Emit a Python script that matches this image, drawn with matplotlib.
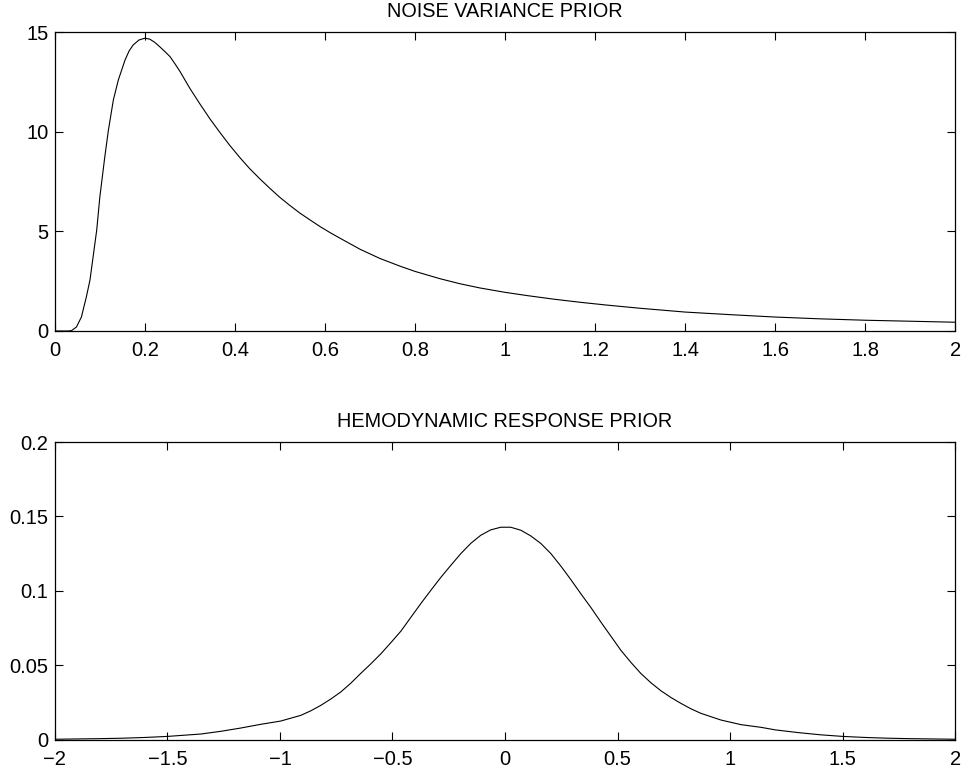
import numpy as np
import matplotlib
matplotlib.use("Agg")
import matplotlib.pyplot as plt

# noise variance prior
noise_x = [0.0, 0.03, 0.037, 0.048, 0.059, 0.070, 0.078, 0.085, 0.093, 0.100,
           0.111, 0.119, 0.130, 0.141, 0.156, 0.165, 0.174, 0.187, 0.200, 0.211,
           0.222, 0.233, 0.244, 0.256, 0.267, 0.278, 0.300, 0.322, 0.344, 0.367,
           0.389, 0.411, 0.433, 0.456, 0.478, 0.500, 0.522, 0.544, 0.567, 0.589,
           0.611, 0.633, 0.678, 0.722, 0.767, 0.800, 0.856, 0.900, 0.944, 1.000,
           1.048, 1.107, 1.167, 1.226, 1.300, 1.400, 1.500, 1.600, 1.700, 1.800,
           1.900, 2.000]
noise_y = [0.0, 0.0, 0.02, 0.2, 0.70, 1.71, 2.55, 3.72, 5.06, 6.73,
           8.74, 10.08, 11.59, 12.59, 13.60, 14.05, 14.35, 14.60, 14.69, 14.64,
           14.48, 14.26, 14.03, 13.76, 13.40, 13.02, 12.17, 11.40, 10.66, 9.95,
           9.30, 8.70, 8.14, 7.62, 7.15, 6.70, 6.30, 5.92, 5.57, 5.24,
           4.94, 4.66, 4.10, 3.64, 3.25, 2.99, 2.62, 2.37, 2.16, 1.94,
           1.78, 1.60, 1.44, 1.30, 1.14, 0.95, 0.82, 0.70, 0.61, 0.54,
           0.49, 0.44]

# hemodynamic response prior
hrf_x = [-2.0, -1.9, -1.8, -1.7, -1.6, -1.5, -1.352, -1.264, -1.175, -1.086,
         -0.997, -0.908, -0.864, -0.819, -0.775, -0.730, -0.686, -0.641, -0.597,
         -0.552, -0.508, -0.463, -0.419, -0.375, -0.330, -0.286, -0.241, -0.197,
         -0.152, -0.108, -0.064, -0.019, 0.025, 0.070, 0.114, 0.159, 0.203, 0.248,
         0.292, 0.336, 0.381, 0.425, 0.470, 0.514, 0.559, 0.603, 0.648, 0.692,
         0.736, 0.781, 0.825, 0.870, 0.959, 1.048, 1.137, 1.2, 1.3, 1.4, 1.5,
         1.6, 1.7, 1.8, 1.9, 2.0]
hrf_y = [0.0005, 0.0007, 0.0009, 0.0012, 0.0017, 0.0024, 0.0040, 0.0058, 0.0080, 0.0105,
         0.0127, 0.0165, 0.0195, 0.0232, 0.0274, 0.0322, 0.0380, 0.0447, 0.0510,
         0.0578, 0.0652, 0.0730, 0.0822, 0.0914, 0.1004, 0.1090, 0.1172, 0.1250,
         0.1320, 0.1374, 0.1410, 0.1428, 0.1428, 0.1408, 0.1370, 0.1319, 0.1252, 0.1167,
         0.1077, 0.0983, 0.0890, 0.0793, 0.0697, 0.0603, 0.0521, 0.0447, 0.0384, 0.0331,
         0.0286, 0.0246, 0.0210, 0.0179, 0.0134, 0.0103, 0.0085, 0.0068, 0.0050, 0.0035, 0.0024,
         0.0017, 0.0012, 0.0009, 0.0007, 0.0005]

noise_xticks = [0, 0.2, 0.4, 0.6, 0.8, 1, 1.2, 1.4, 1.6, 1.8, 2]
noise_xlabels = ["0", "0.2", "0.4", "0.6", "0.8", "1", "1.2", "1.4", "1.6", "1.8", "2"]
noise_yticks = [0, 5, 10, 15]
hrf_xticks = [-2, -1.5, -1, -0.5, 0, 0.5, 1, 1.5, 2]
hrf_xlabels = ["\u22122", "\u22121.5", "\u22121", "\u22120.5", "0", "0.5", "1", "1.5", "2"]
hrf_yticks = [0, 0.05, 0.1, 0.15, 0.2]
hrf_ylabels = ["0", "0.05", "0.1", "0.15", "0.2"]

plt.rcParams['font.family'] = ['Liberation Sans', 'DejaVu Sans']
plt.rcParams['font.size'] = 14.5


def style_axes(ax):
    # matlab look: box, inward ticks on all sides
    for s in ax.spines.values():
        s.set_linewidth(0.9)
        s.set_color('black')
    ax.tick_params(direction='in', top=True, right=True, length=6, width=0.8,
                   labelsize=14.5)
    ax.tick_params(axis='y', pad=4.5)
    ax.tick_params(axis='x', pad=7)


fig = plt.figure(figsize=(9.62, 7.73), dpi=100)
ax1 = fig.add_axes([0.057, 0.5718, 0.936, 0.3868])
ax2 = fig.add_axes([0.057, 0.0427, 0.936, 0.3855])

ax1.plot(noise_x, noise_y, color='black', lw=0.8)
ax1.set_xlim(0, 2)
ax1.set_ylim(0, 15)
ax1.set_xticks(noise_xticks)
ax1.set_xticklabels(noise_xlabels)
ax1.set_yticks(noise_yticks)
ax1.set_title("NOISE VARIANCE PRIOR", fontsize=14.3, pad=11)
style_axes(ax1)

ax2.plot(hrf_x, hrf_y, color='black', lw=0.8)
ax2.set_xlim(-2, 2)
ax2.set_ylim(0, 0.2)
ax2.set_xticks(hrf_xticks)
ax2.set_xticklabels(hrf_xlabels)
ax2.set_yticks(hrf_yticks)
ax2.set_yticklabels(hrf_ylabels)
ax2.set_title("HEMODYNAMIC RESPONSE PRIOR", fontsize=14.3, pad=11)
style_axes(ax2)

plt.savefig('out.png', dpi=100)
